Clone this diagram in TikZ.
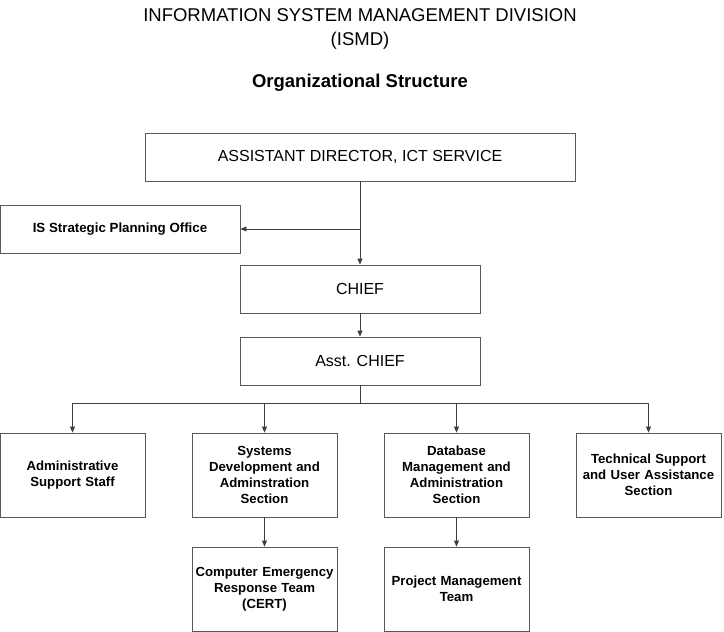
\documentclass[tikz,border=0pt]{standalone}
\usepackage{fontspec}
\setmainfont{Liberation Sans}
\usetikzlibrary{arrows.meta,positioning}

\begin{document}
\begin{tikzpicture}[
  x=1pt,y=-1pt,
  box/.style={draw=black!65,line width=0.8pt,align=center,inner sep=2pt,minimum height=48pt},
  unit/.style={box,minimum width=145pt,minimum height=84pt,text width=140pt,font=\fontsize{13.2}{16}\selectfont\bfseries},
  head/.style={font=\fontsize{16}{18}\selectfont},
  arr/.style={-{Triangle[length=6pt,width=5pt]},line width=0.7pt,draw=black!75}
]
\useasboundingbox (0,0) rectangle (724,632);
% title
\node[align=center,font=\fontsize{18.5}{24}\selectfont] (title) at (360,29) {INFORMATION SYSTEM MANAGEMENT DIVISION\\(ISMD)};
\node[font=\fontsize{18.5}{20}\selectfont\bfseries] (sub) at (360,83) {Organizational Structure};
% top levels
\node[box,head,minimum width=430pt] (dir) at (360,157) {ASSISTANT DIRECTOR, ICT SERVICE};
\node[box,minimum width=240pt,font=\fontsize{13.3}{16}\selectfont\bfseries] (isp) at (120,229) {IS Strategic Planning Office};
\node[box,head,minimum width=240pt] (chief) at (360,289) {CHIEF};
\node[box,head,minimum width=240pt] (asst) at (360,361) {Asst. CHIEF};
% sections
\node[unit] (admin) at (72.5,475) {Administrative\\Support Staff};
\node[unit] (sysdev) at (264.5,475) {Systems\\Development and\\Adminstration\\Section};
\node[unit] (dbadmin) at (456.5,475) {Database\\Management and\\Administration\\Section};
\node[unit] (techsup) at (648.5,475) {Technical Support\\and User Assistance\\Section};
% teams
\node[unit] (cert) at (264.5,589) {Computer Emergency\\Response Team\\(CERT)};
\node[unit] (pmt) at (456.5,589) {Project Management\\Team};
\coordinate (bus) at (360,403);
\draw[arr] (dir.south) -- (chief.north);
\draw[arr] (dir.south |- isp.east) -- (isp.east);
\draw[arr] (chief) -- (asst);
\foreach \n in {admin,sysdev,dbadmin,techsup}
  \draw[arr] (asst.south) -- (bus) -| (\n.north);
\draw[arr] (sysdev) -- (cert);
\draw[arr] (dbadmin) -- (pmt);
\end{tikzpicture}
\end{document}
